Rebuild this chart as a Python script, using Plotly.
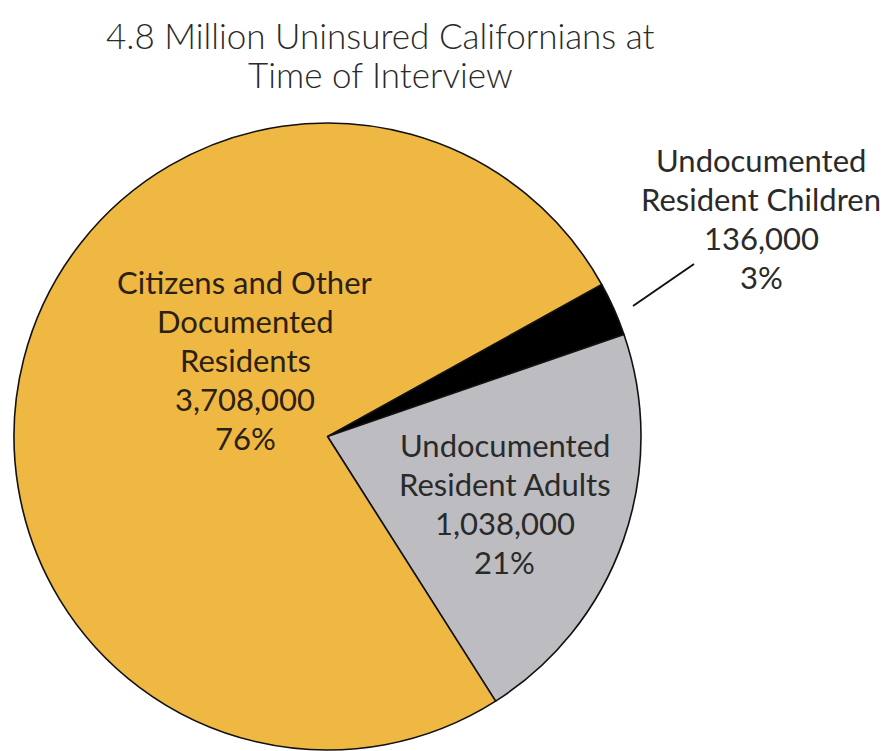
import plotly.graph_objects as go

W, H = 889, 751

# ---- data ----
categories = ["Undocumented Resident Children",
              "Undocumented Resident Adults",
              "Citizens and Other Documented Residents"]
values = [136000, 1038000, 3708000]
label_lines = [["Undocumented", "Resident Children"],
               ["Undocumented", "Resident Adults"],
               ["Citizens and Other", "Documented", "Residents"]]
title_lines = ["4.8 Million Uninsured Californians at", "Time of Interview"]

# ---- style ----
colors = ["#000000", "#BDBDC1", "#EFB843"]
text_colors = ["#2a2a2a", "#2a2a2a", "#2b2112"]
label_pos = [(761, 160), (505, 445), (245, 282)]   # px centre of first line
line_gap = 39
FONT = "Lato"

total = sum(values)
pcts = [f"{round(v / total * 100):d}%" for v in values]

def px(x, y):
    return x / W, 1 - y / H

fig = go.Figure(go.Pie(
    labels=categories, values=values, sort=False,
    direction="clockwise", rotation=61,
    marker=dict(colors=colors, line=dict(color="#111111", width=1.6)),
    textinfo="none", hoverinfo="label+value+percent",
    domain=dict(x=[13 / W, 642 / W], y=[1 / H, 1 - 123 / H]),
    showlegend=False,
))

annotations = []
for i, lines in enumerate(label_lines):
    all_lines = lines + [f"{values[i]:,}", pcts[i]]
    x0, y0 = label_pos[i]
    for k, t in enumerate(all_lines):
        xp, yp = px(x0, y0 + k * line_gap)
        annotations.append(dict(
            text=t, x=xp, y=yp, xref="paper", yref="paper",
            xanchor="center", yanchor="middle", showarrow=False,
            font=dict(family=FONT, size=31, color=text_colors[i], weight=400)))

for k, t in enumerate(title_lines):
    xp, yp = px(380, 35 + k * 39)
    annotations.append(dict(
        text=t, x=xp, y=yp, xref="paper", yref="paper",
        xanchor="center", yanchor="middle", showarrow=False,
        font=dict(family=FONT, size=35, color="#2a2a2a", weight=300)))

x1, y1 = px(633, 306)
x2, y2 = px(694, 264)
fig.update_layout(
    width=W, height=H, margin=dict(l=0, r=0, t=0, b=0),
    paper_bgcolor="white", plot_bgcolor="white",
    annotations=annotations,
    shapes=[dict(type="line", xref="paper", yref="paper",
                 x0=x1, y0=y1, x1=x2, y1=y2,
                 line=dict(color="#111111", width=2))],
)

fig.write_html("out.html")
